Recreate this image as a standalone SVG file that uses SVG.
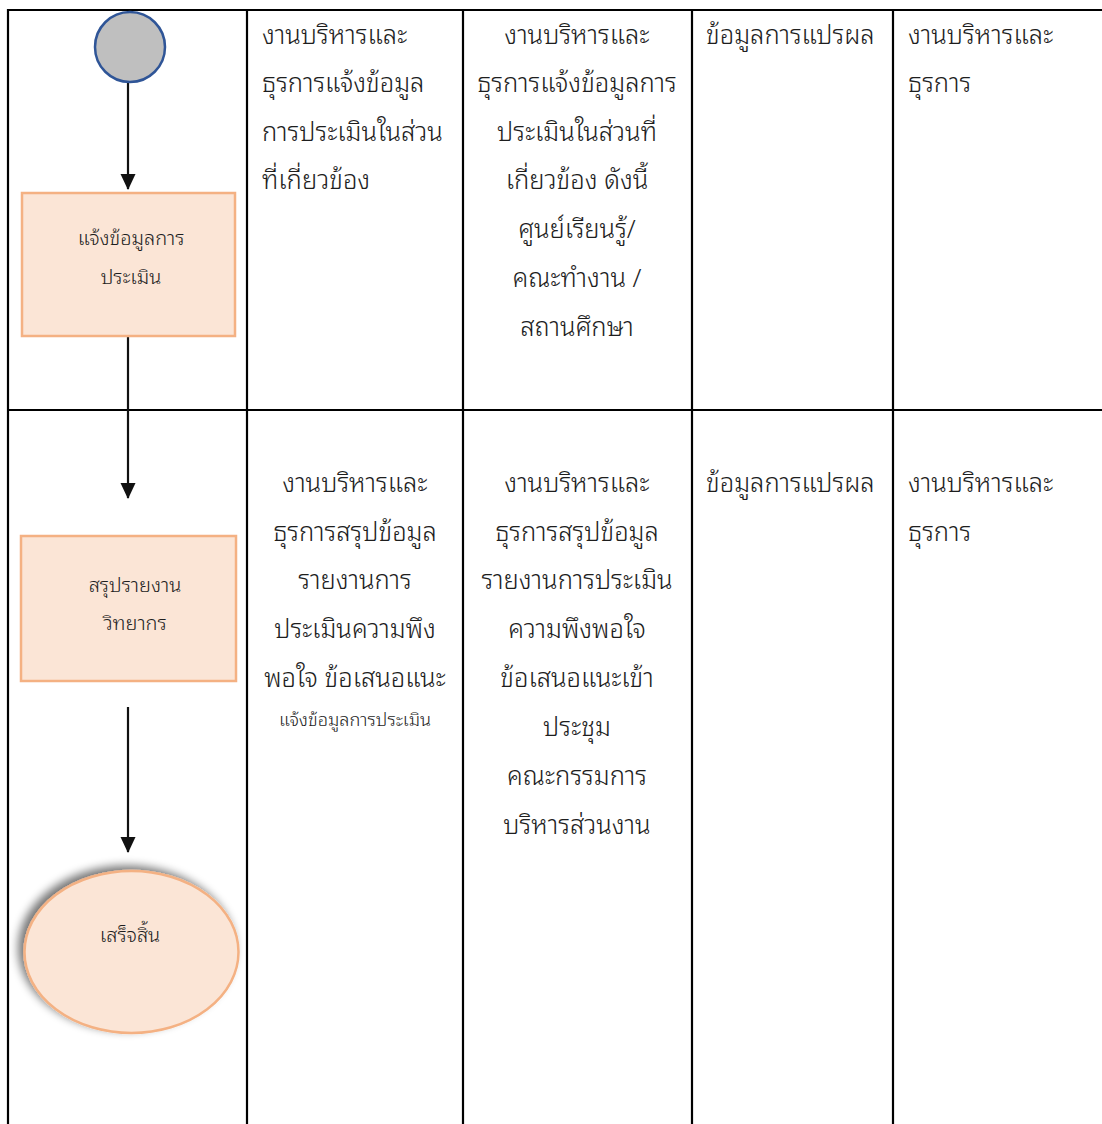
<svg xmlns="http://www.w3.org/2000/svg" width="1102" height="1124" viewBox="0 0 1102 1124">
  <style>
    .grid { stroke: #000; stroke-width: 2.2; fill: none; }
    .t { font-family: "Noto Sans Thai Looped", "Tahoma", "Leelawadee UI", "Noto Sans Thai", "Noto Sans", sans-serif; font-size: 25.6px; font-weight: 350; fill: #1e1e1e; }
    .c { text-anchor: middle; }
    .box { fill: #FBE5D6; stroke: #F4B183; stroke-width: 2.5; }
    .bt { font-family: "Noto Sans Thai Looped", "Tahoma", "Leelawadee UI", "Noto Sans Thai", "Noto Sans", sans-serif; font-size: 20px; font-weight: 350; fill: #1e1e1e; text-anchor: middle; }
    .sm { font-family: "Noto Sans Thai Looped", "Tahoma", "Leelawadee UI", "Noto Sans Thai", "Noto Sans", sans-serif; font-size: 18.2px; font-weight: 350; fill: #1e1e1e; text-anchor: middle; }
    .flow { stroke: #111; stroke-width: 2.2; fill: none; }
  </style>
  <defs>
    <marker id="arrow" markerWidth="16" markerHeight="16" refX="15" refY="7.5" orient="auto" markerUnits="userSpaceOnUse" viewBox="0 0 16 16">
      <path d="M0,0 L16,7.5 L0,15 Z" fill="#111"/>
    </marker>
    <filter id="shadow" x="-30%" y="-30%" width="160%" height="160%">
      <feGaussianBlur in="SourceAlpha" stdDeviation="5"/>
      <feOffset dx="-5" dy="-4" result="b"/>
      <feComponentTransfer><feFuncA type="linear" slope="0.55"/></feComponentTransfer>
      <feMerge><feMergeNode/><feMergeNode in="SourceGraphic"/></feMerge>
    </filter>
  </defs>

  <rect width="1102" height="1124" fill="#fff"/>

  <!-- table grid -->
  <g id="grid" class="grid">
    <line x1="8" y1="10" x2="1102" y2="10"/>
    <line x1="8" y1="410" x2="1102" y2="410"/>
    <line x1="8" y1="9" x2="8" y2="1124"/>
    <line x1="247" y1="9" x2="247" y2="1124"/>
    <line x1="463" y1="9" x2="463" y2="1124"/>
    <line x1="692" y1="9" x2="692" y2="1124"/>
    <line x1="893" y1="9" x2="893" y2="1124"/>
  </g>

  <!-- connectors -->
  <g id="connectors">
    <line class="flow" x1="128" y1="82" x2="128" y2="189" marker-end="url(#arrow)"/>
    <line class="flow" x1="128" y1="336" x2="128" y2="498" marker-end="url(#arrow)"/>
    <line class="flow" x1="128" y1="707" x2="128" y2="852" marker-end="url(#arrow)"/>
  </g>

  <!-- flow nodes -->
  <g id="start">
    <circle cx="130" cy="47" r="35" fill="#BFBFBF" stroke="#2F5597" stroke-width="2.5"/>
  </g>
  <g id="notify">
    <rect class="box" x="22" y="193" width="213" height="143"/>
    <text class="bt" x="131" y="245">แจ้งข้อมูลการ</text>
    <text class="bt" x="131" y="284">ประเมิน</text>
  </g>
  <g id="summary">
    <rect class="box" x="21" y="536" width="215" height="145"/>
    <text class="bt" x="135" y="592">สรุปรายงาน</text>
    <text class="bt" x="135" y="630">วิทยากร</text>
  </g>
  <g id="end">
    <ellipse cx="131.5" cy="952" rx="107" ry="81" fill="#FBE5D6" stroke="#F4B183" stroke-width="2.5" filter="url(#shadow)"/>
    <text class="bt" x="130" y="942">เสร็จสิ้น</text>
  </g>

  <!-- row 1 cells -->
  <g id="r1c2" class="t">
    <text x="262" y="44">งานบริหารและ</text>
    <text x="262" y="92">ธุรการแจ้งข้อมูล</text>
    <text x="262" y="141">การประเมินในส่วน</text>
    <text x="262" y="189">ที่เกี่ยวข้อง</text>
  </g>
  <g id="r1c3" class="t c">
    <text x="577" y="44">งานบริหารและ</text>
    <text x="577" y="92">ธุรการแจ้งข้อมูลการ</text>
    <text x="577" y="141">ประเมินในส่วนที่</text>
    <text x="577" y="189">เกี่ยวข้อง ดังนี้</text>
    <text x="577" y="238">ศูนย์เรียนรู้/</text>
    <text x="577" y="287">คณะทำงาน /</text>
    <text x="577" y="336">สถานศึกษา</text>
  </g>
  <g id="r1c4" class="t">
    <text x="706" y="44">ข้อมูลการแปรผล</text>
  </g>
  <g id="r1c5" class="t">
    <text x="908" y="44">งานบริหารและ</text>
    <text x="908" y="92">ธุรการ</text>
  </g>

  <!-- row 2 cells -->
  <g id="r2c2" class="t c">
    <text x="355" y="492">งานบริหารและ</text>
    <text x="355" y="541">ธุรการสรุปข้อมูล</text>
    <text x="355" y="589">รายงานการ</text>
    <text x="355" y="638">ประเมินความพึง</text>
    <text x="355" y="687">พอใจ ข้อเสนอแนะ</text>
    <text class="sm" x="355" y="726">แจ้งข้อมูลการประเมิน</text>
  </g>
  <g id="r2c3" class="t c">
    <text x="577" y="492">งานบริหารและ</text>
    <text x="577" y="541">ธุรการสรุปข้อมูล</text>
    <text x="577" y="589">รายงานการประเมิน</text>
    <text x="577" y="638">ความพึงพอใจ</text>
    <text x="577" y="687">ข้อเสนอแนะเข้า</text>
    <text x="577" y="736">ประชุม</text>
    <text x="577" y="785">คณะกรรมการ</text>
    <text x="577" y="834">บริหารส่วนงาน</text>
  </g>
  <g id="r2c4" class="t">
    <text x="706" y="492">ข้อมูลการแปรผล</text>
  </g>
  <g id="r2c5" class="t">
    <text x="908" y="492">งานบริหารและ</text>
    <text x="908" y="541">ธุรการ</text>
  </g>
</svg>
